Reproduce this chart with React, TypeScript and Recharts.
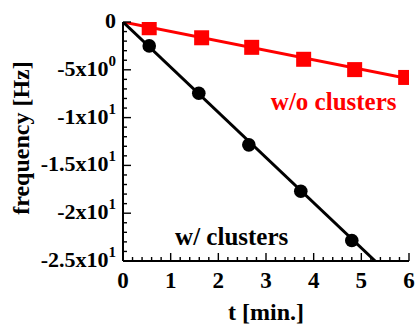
import React from 'react';
import { ComposedChart, Line, Scatter, XAxis, YAxis, ReferenceDot } from 'recharts';

// measured points (t in min, frequency in Hz)
const redT = [0.55, 1.65, 2.7, 3.79, 4.86, 5.93];
const redF = [-0.6, -1.65, -2.65, -3.9, -4.98, -5.8];
const blackT = [0.55, 1.59, 2.64, 3.73, 4.8];
const blackF = [-2.5, -7.45, -12.85, -17.7, -22.85];

// fitted lines
const redFitT = [0, 6];
const redFitF = [0, -5.95];
const blackFitT = [0, 5.29];
const blackFitF = [0, -25];

// ticks
const xTicks = [0, 0.2, 0.4, 0.6, 0.8, 1, 1.2, 1.4, 1.6, 1.8, 2, 2.2, 2.4, 2.6, 2.8, 3, 3.2, 3.4, 3.6, 3.8, 4, 4.2, 4.4, 4.6, 4.8, 5, 5.2, 5.4, 5.6, 5.8, 6];
const yTicks = [0, -1, -2, -3, -4, -5, -6, -7, -8, -9, -10, -11, -12, -13, -14, -15, -16, -17, -18, -19, -20, -21, -22, -23, -24, -25];
const yMajor = [0, -5, -10, -15, -20, -25];
const yTickBase = ['0', '-5x10', '-1x10', '-1.5x10', '-2x10', '-2.5x10'];
const yTickExp = ['', '0', '1', '1', '1', '1'];

const FONT = 'Liberation Serif, Times New Roman, serif';
const RED = '#ff0000';

const zip = (ts: number[], fs: number[]) => ts.map((t, i) => ({ t, f: fs[i] }));

const isMajorX = (v: number) => Number.isInteger(v);
const isMajorY = (v: number) => v % 5 === 0;

const BottomTick = ({ x, y, payload }: any) => {
  const major = isMajorX(payload.value);
  return (
    <g>
      <line x1={x} x2={x} y1={y} y2={y - (major ? 8 : 4)} stroke="#000" strokeWidth={1.4} />
      {major && (
        <text x={x} y={y + 27} textAnchor="middle" fontFamily={FONT} fontWeight="bold" fontSize={23} fill="#000">
          {payload.value}
        </text>
      )}
    </g>
  );
};

const TopTick = ({ x, y, payload }: any) => {
  const major = isMajorX(payload.value);
  return <line x1={x} x2={x} y1={y} y2={y + (major ? 8 : 4)} stroke="#000" strokeWidth={1.4} />;
};

const LeftTick = ({ x, y, payload }: any) => {
  const major = isMajorY(payload.value);
  const idx = yMajor.indexOf(payload.value);
  return (
    <g>
      <line x1={x} x2={x + (major ? 8 : 4)} y1={y} y2={y} stroke="#000" strokeWidth={1.4} />
      {major && idx >= 0 && (
        <text x={x - 7} y={y + 6} textAnchor="end" fontFamily={FONT} fontWeight="bold" fontSize={22} fill="#000">
          {yTickBase[idx]}
          {yTickExp[idx] !== '' && (
            <tspan fontSize={15} dy={-10}>{yTickExp[idx]}</tspan>
          )}
        </text>
      )}
    </g>
  );
};

const RightTick = ({ x, y, payload }: any) => {
  const major = isMajorY(payload.value);
  return <line x1={x} x2={x - (major ? 8 : 4)} y1={y} y2={y} stroke="#000" strokeWidth={1.4} />;
};

const Square = (props: any) => {
  const { cx, cy } = props;
  const s = 15;
  return <rect x={cx - s / 2} y={cy - s / 2} width={s} height={s} fill={RED} />;
};

const Circle = (props: any) => {
  const { cx, cy } = props;
  return <circle cx={cx} cy={cy} r={6.8} fill="#000" />;
};

const Note = (text: string, color: string) => (props: any) => (
  <text x={props.cx} y={props.cy} textAnchor="middle" dominantBaseline="central" fontFamily={FONT} fontWeight="bold" fontSize={25} fill={color}>
    {text}
  </text>
);

export default function App() {
  return (
    <div style={{ position: 'absolute', left: 0, top: 0 }}>
      <ComposedChart width={415} height={327} margin={{ top: 22, right: 6, bottom: 0, left: 0 }}>
        <XAxis
          xAxisId="b"
          type="number"
          dataKey="t"
          domain={[0, 6]}
          ticks={xTicks}
          interval={0}
          allowDataOverflow
          height={66}
          tickSize={0}
          tickMargin={0}
          tickLine={false}
          axisLine={{ stroke: '#000', strokeWidth: 2 }}
          tick={<BottomTick />}
          label={{
            content: () => (
              <text x={266} y={320} textAnchor="middle" fontFamily={FONT} fontWeight="bold" fontSize={24} fill="#000">
                t [min.]
              </text>
            ),
          }}
        />
        <XAxis
          xAxisId="top"
          orientation="top"
          type="number"
          domain={[0, 6]}
          ticks={xTicks}
          interval={0}
          allowDataOverflow
          height={0}
          tickSize={0}
          tickMargin={0}
          tickLine={false}
          axisLine={{ stroke: '#000', strokeWidth: 2 }}
          tick={<TopTick />}
        />
        <YAxis
          yAxisId="l"
          type="number"
          domain={[-25, 0]}
          ticks={yTicks}
          interval={0}
          allowDataOverflow
          width={123}
          tickSize={0}
          tickMargin={0}
          tickLine={false}
          axisLine={{ stroke: '#000', strokeWidth: 2 }}
          tick={<LeftTick />}
          label={{
            content: () => (
              <text transform="translate(29,138) rotate(-90)" textAnchor="middle" fontFamily={FONT} fontWeight="bold" fontSize={24} fill="#000">
                frequency [Hz]
              </text>
            ),
          }}
        />
        <YAxis
          yAxisId="r"
          orientation="right"
          type="number"
          domain={[-25, 0]}
          ticks={yTicks}
          interval={0}
          allowDataOverflow
          width={0}
          tickSize={0}
          tickMargin={0}
          tickLine={false}
          axisLine={{ stroke: '#000', strokeWidth: 2 }}
          tick={<RightTick />}
        />
        <Line
          xAxisId="b"
          yAxisId="l"
          data={zip(redFitT, redFitF)}
          dataKey="f"
          type="linear"
          stroke={RED}
          strokeWidth={3}
          dot={false}
          activeDot={false}
          isAnimationActive={false}
        />
        <Line
          xAxisId="b"
          yAxisId="l"
          data={zip(blackFitT, blackFitF)}
          dataKey="f"
          type="linear"
          stroke="#000"
          strokeWidth={3}
          dot={false}
          activeDot={false}
          isAnimationActive={false}
        />
        <Scatter xAxisId="b" yAxisId="l" data={zip(redT, redF)} dataKey="f" shape={<Square />} isAnimationActive={false} />
        <Scatter xAxisId="b" yAxisId="l" data={zip(blackT, blackF)} dataKey="f" shape={<Circle />} isAnimationActive={false} />
        <ReferenceDot xAxisId="b" yAxisId="l" x={4.42} y={-8.3} r={0} shape={Note('w/o clusters', RED)} />
        <ReferenceDot xAxisId="b" yAxisId="l" x={2.28} y={-22.4} r={0} shape={Note('w/ clusters', '#000')} />
      </ComposedChart>
    </div>
  );
}
